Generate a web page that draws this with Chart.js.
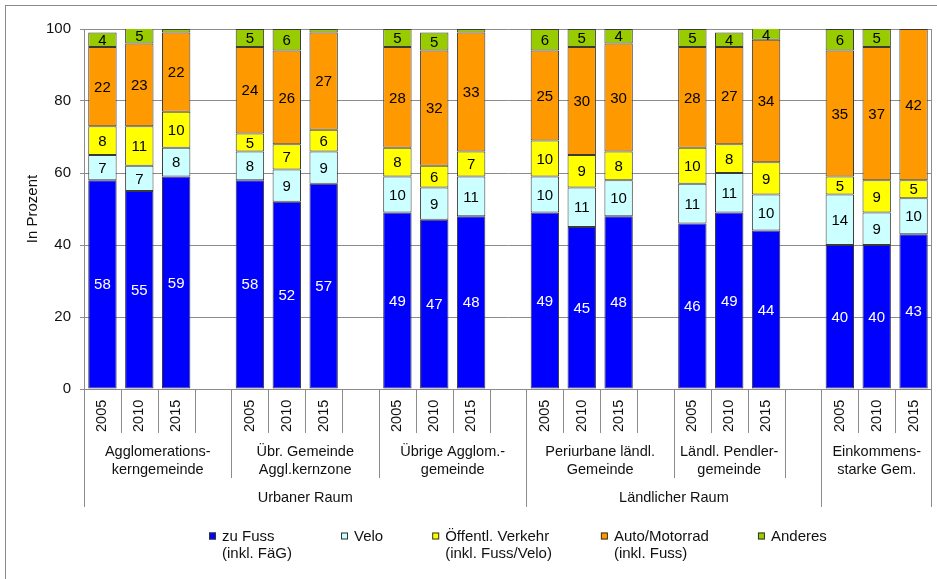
<!DOCTYPE html>
<html>
<head>
<meta charset="utf-8">
<script src="https://cdn.jsdelivr.net/npm/chart.js@4/dist/chart.umd.min.js"></script>
<style>
  html, body { margin: 0; padding: 0; background: #fff; }
  canvas { display: block; }
</style>
</head>
<body>
<canvas id="chart" width="937" height="579"></canvas>
<script>
// Category structure
const years = ['2005', '2010', '2015'];
const groupLabels = [
  ['Agglomerations-', 'kerngemeinde'],
  ['Übr. Gemeinde', 'Aggl.kernzone'],
  ['Übrige Agglom.-', 'gemeinde'],
  ['Periurbane ländl.', 'Gemeinde'],
  ['Ländl. Pendler-', 'gemeinde'],
  ['Einkommens-', 'starke Gem.']
];
const regionLabels = ['Urbaner Raum', 'Ländlicher Raum', ''];
// every slot on the category axis: its group (-1 = spacer) and its region
const slotGroup  = [0,0,0,0, 1,1,1,1, 2,2,2,2, 3,3,3,3, 4,4,4,-1, 5,5,5];
const slotRegion = [0,0,0,0, 0,0,0,0, 0,0,0,0, 1,1,1,1, 1,1,1,1, 2,2,2];
const barSlots   = [0,1,2, 4,5,6, 8,9,10, 12,13,14, 16,17,18, 20,21,22];

// Shares in percent, per group: 2005, 2010, 2015
const zuFuss  = [58,55,59, 58,52,57, 49,47,48, 49,45,48, 46,49,44, 40,40,43];
const velo    = [ 7, 7, 8,  8, 9, 9, 10, 9,11, 10,11,10, 11,11,10, 14, 9,10];
const oev     = [ 8,11,10,  5, 7, 6,  8, 6, 7, 10, 9, 8, 10, 8, 9,  5, 9, 5];
const auto    = [22,23,22, 24,26,27, 28,32,33, 25,30,30, 28,27,34, 35,37,42];
const anderes = [ 4, 5, 1,  5, 6, 1,  5, 5, 1,  6, 5, 4,  5, 4, 4,  6, 5, 1];

const seriesValues = [zuFuss, velo, oev, auto, anderes];
const seriesNames = [
  ['zu Fuss', '(inkl. FäG)'],
  ['Velo'],
  ['Öffentl. Verkehr', '(inkl. Fuss/Velo)'],
  ['Auto/Motorrad', '(inkl. Fuss)'],
  ['Anderes']
];
const seriesColors = ['#0000FF', '#CCFFFF', '#FFFF00', '#FF9900', '#99CC00'];
const labelColors  = ['#FFFFFF', '#000000', '#000000', '#000000', '#000000'];

const FONT = '"Liberation Sans", Arial, sans-serif';
const LINE = '#8c8c8c';
const TEXT = '#111111';

const slotLabels = slotGroup.map((g, s) => {
  const i = barSlots.indexOf(s);
  return i >= 0 ? years[i % 3] : '';
});

const datasets = seriesValues.map((vals, k) => {
  const data = new Array(slotGroup.length).fill(null);
  barSlots.forEach((s, i) => { data[s] = vals[i]; });
  return {
    label: seriesNames[k].join(' '),
    data,
    backgroundColor: seriesColors[k],
    borderColor: '#3a3a3a',
    borderWidth: 1,
    borderSkipped: false,
    barPercentage: 0.77,
    categoryPercentage: 1.0
  };
});

// Values written into the bar segments
const segmentLabels = {
  id: 'segmentLabels',
  afterDatasetsDraw(chart) {
    const ctx = chart.ctx;
    ctx.save();
    ctx.font = '15px ' + FONT;
    ctx.textAlign = 'center';
    ctx.textBaseline = 'middle';
    chart.data.datasets.forEach((ds, k) => {
      const meta = chart.getDatasetMeta(k);
      meta.data.forEach((el, s) => {
        const v = ds.data[s];
        if (v == null || v < 3) return;
        const top = Math.max(el.y, chart.chartArea.top);
        ctx.fillStyle = labelColors[k];
        ctx.fillText(String(v), el.x, (top + el.base) / 2 + 1);
      });
    });
    ctx.restore();
  }
};

// Multi-level category axis, legend and frame
const axisAndLegend = {
  id: 'axisAndLegend',
  afterDraw(chart) {
    const ctx = chart.ctx;
    const xs = chart.scales.x;
    const area = chart.chartArea;
    const n = slotGroup.length;
    const w = xs.getPixelForValue(1) - xs.getPixelForValue(0);
    const edge = b => xs.getPixelForValue(b) - w / 2;
    const yBase = area.bottom;
    const yYear = yBase + 44, yGroup = yBase + 89, yRegion = yBase + 118;

    ctx.save();
    ctx.strokeStyle = LINE;
    ctx.lineWidth = 1;

    // axis line and plot right edge
    ctx.beginPath();
    ctx.moveTo(area.left, Math.round(yBase) + 0.5);
    ctx.lineTo(area.right, Math.round(yBase) + 0.5);
    ctx.moveTo(Math.round(area.right) - 0.5, area.top);
    ctx.lineTo(Math.round(area.right) - 0.5, yBase);
    ctx.stroke();

    // separators between slots
    for (let b = 0; b <= n; b++) {
      let depth;
      if (b === 0 || b === n || slotRegion[b] !== slotRegion[b - 1]) depth = yRegion;
      else if (slotGroup[b] !== slotGroup[b - 1]) depth = yGroup;
      else depth = yYear;
      let x = Math.round(edge(b)) + 0.5;
      if (b === n) x = Math.round(area.right) - 0.5;
      ctx.beginPath();
      ctx.moveTo(x, yBase);
      ctx.lineTo(x, depth);
      ctx.stroke();
    }

    ctx.fillStyle = TEXT;

    // years, rotated
    ctx.font = '14.5px ' + FONT;
    ctx.textAlign = 'left';
    ctx.textBaseline = 'middle';
    barSlots.forEach(s => {
      ctx.save();
      ctx.translate(xs.getPixelForValue(s), yBase + 43);
      ctx.rotate(-Math.PI / 2);
      ctx.fillText(slotLabels[s], 0, 0);
      ctx.restore();
    });

    // groups
    ctx.textAlign = 'center';
    ctx.font = '14.5px ' + FONT;
    groupLabels.forEach((lines, g) => {
      const slots = slotGroup.map((v, s) => v === g ? s : -1).filter(s => s >= 0);
      const cx = (edge(slots[0]) + edge(slots[slots.length - 1] + 1)) / 2;
      lines.forEach((t, j) => ctx.fillText(t, cx, yBase + 63 + j * 18));
    });

    // regions
    regionLabels.forEach((t, r) => {
      const slots = slotRegion.map((v, s) => v === r ? s : -1).filter(s => s >= 0);
      const cx = (edge(slots[0]) + edge(slots[slots.length - 1] + 1)) / 2;
      ctx.fillText(t, cx, yBase + 109);
    });

    // legend
    ctx.font = '15px ' + FONT;
    ctx.textAlign = 'left';
    ctx.textBaseline = 'alphabetic';
    let lx = 209;
    const ly = 536;
    seriesNames.forEach((lines, k) => {
      ctx.fillStyle = seriesColors[k];
      ctx.fillRect(lx, ly - 3.5, 7, 7);
      ctx.strokeStyle = '#333';
      ctx.strokeRect(lx + 0.5, ly - 3.5 + 0.5, 6, 6);
      ctx.fillStyle = TEXT;
      let maxW = 0;
      lines.forEach((t, j) => {
        ctx.fillText(t, lx + 13, ly + 5 + j * 16.5);
        maxW = Math.max(maxW, ctx.measureText(t).width);
      });
      lx += 13 + maxW + 49;
    });

    // outer frame
    ctx.strokeStyle = '#8a8a8a';
    ctx.strokeRect(5.5, 5.5, 960, 600);
    ctx.restore();
  }
};

new Chart(document.getElementById('chart'), {
  type: 'bar',
  data: { labels: slotLabels, datasets },
  options: {
    responsive: false,
    animation: false,
    devicePixelRatio: 1,
    layout: { padding: { top: 29, right: 5, bottom: 190, left: 0 } },
    plugins: {
      legend: { display: false },
      tooltip: { enabled: false }
    },
    scales: {
      x: { stacked: true, display: false },
      y: {
        stacked: true,
        min: 0,
        max: 100,
        afterFit(scale) { scale.width = 84; },
        ticks: { stepSize: 20, padding: 9, color: TEXT, font: { family: FONT, size: 15 } },
        grid: { color: LINE, tickColor: LINE, tickLength: 4 },
        border: { color: LINE },
        title: {
          display: true,
          text: 'In Prozent',
          color: TEXT,
          font: { family: FONT, size: 15 },
          padding: { top: 24, bottom: 0 }
        }
      }
    }
  },
  plugins: [segmentLabels, axisAndLegend]
});
</script>
</body>
</html>
